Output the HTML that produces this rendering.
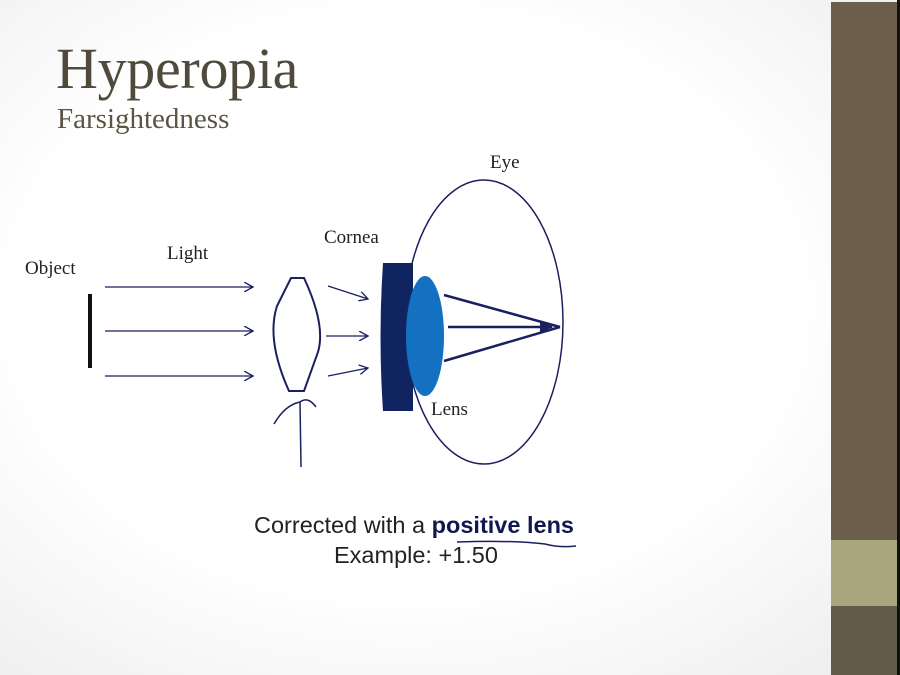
<!DOCTYPE html>
<html><head><meta charset="utf-8"><style>
body{margin:0;width:900px;height:675px;overflow:hidden;background:radial-gradient(ellipse at 45% 45%,#ffffff 55%,#ececec 100%);position:relative;font-family:"Liberation Serif",serif}
.t{position:absolute;white-space:nowrap}
</style></head><body>
<div style="position:absolute;left:831px;top:2px;width:66px;height:673px;background:#6b5e4b"></div>
<div style="position:absolute;left:831px;top:540px;width:66px;height:66px;background:#a9a57c"></div>
<div style="position:absolute;left:831px;top:606px;width:66px;height:69px;background:#625a48"></div>
<div class="t" style="left:56px;top:35px;font-size:58px;color:#4f4a3c;letter-spacing:-0.3px">Hyperopia</div>
<div class="t" style="left:57px;top:103px;font-size:29px;color:#5a5443;letter-spacing:0px">Farsightedness</div>
<div class="t" style="left:25px;top:258px;font-size:19px;color:#222">Object</div>
<div class="t" style="left:167px;top:243px;font-size:19px;color:#222">Light</div>
<div class="t" style="left:324px;top:227px;font-size:19px;color:#222">Cornea</div>
<div class="t" style="left:490px;top:152px;font-size:19px;color:#222">Eye</div>
<div class="t" style="left:431px;top:399px;font-size:19px;color:#222">Lens</div>
<div class="t" style="left:254px;top:512px;font-size:23.5px;color:#222;font-family:'Liberation Sans',sans-serif;letter-spacing:0px">Corrected with a <b style="color:#10184f">positive lens</b></div>
<div class="t" style="left:334px;top:542px;font-size:23.5px;color:#222;font-family:'Liberation Sans',sans-serif;letter-spacing:0px">Example: +1.50</div>
<svg width="900" height="675" style="position:absolute;left:0;top:0">
<defs><marker id="a" markerWidth="10" markerHeight="10" refX="9" refY="5" orient="auto" markerUnits="userSpaceOnUse"><path d="M0,0 L9,5 L0,10" fill="none" stroke="#1b1f5e" stroke-width="1.3"/></marker>
<marker id="b" markerWidth="14" markerHeight="12" refX="12" refY="6" orient="auto" markerUnits="userSpaceOnUse"><path d="M0,0 L13,6 L0,12 z" fill="#1b1f5e"/></marker></defs>
<ellipse cx="484" cy="322" rx="79" ry="142" fill="none" stroke="#1b1f5e" stroke-width="1.5"/>
<rect x="88" y="294" width="4" height="74" fill="#111"/>
<g stroke="#1b1f5e" stroke-width="1.3" marker-end="url(#a)">
<line x1="105" y1="287" x2="253" y2="287"/><line x1="105" y1="331" x2="253" y2="331"/><line x1="105" y1="376" x2="253" y2="376"/>
<line x1="328" y1="286" x2="368" y2="299"/><line x1="326" y1="336" x2="368" y2="336"/><line x1="328" y1="376" x2="368" y2="368"/>
</g>
<path d="M291,278 L304,278 Q326,325 318,352 L304,391 L289,391 Q266,340 277,306 Z" fill="none" stroke="#1b1f5e" stroke-width="2"/>
<path d="M383,263 L413,263 L413,411 L383,411 Q378,337 383,263 Z" fill="#0f2460"/>
<ellipse cx="425" cy="336" rx="19" ry="60" fill="#1470c0"/>
<g stroke="#1b1f5e" stroke-width="2.5" fill="none">
<line x1="444" y1="295" x2="560" y2="327"/><line x1="448" y1="327" x2="552" y2="327" marker-end="url(#b)"/><line x1="444" y1="361" x2="560" y2="327"/>
</g>
<path d="M274,424 Q285,405 300,402 Q308,396 316,407 M300,402 L301,467" fill="none" stroke="#1b1f5e" stroke-width="1.5"/>
<path d="M457,542 Q510,540 545,544 Q560,548 576,546" fill="none" stroke="#1b1f5e" stroke-width="1.5"/>
</svg>
<div style="position:absolute;left:897px;top:0;width:3px;height:675px;background:#111"></div>
</body></html>
